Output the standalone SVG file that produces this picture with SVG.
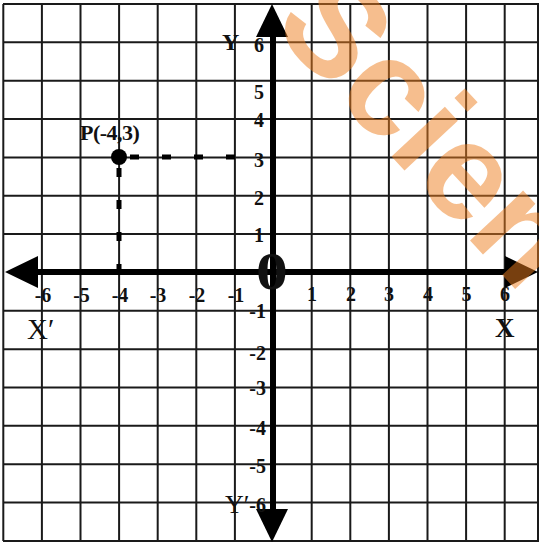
<svg xmlns="http://www.w3.org/2000/svg" width="539" height="543" viewBox="0 0 539 543">
<style>
.g{stroke:#1a1a1a;stroke-width:2;fill:none}
.ax{stroke:#000;stroke-width:6;fill:none}
.ah{fill:#000}
.t{font-family:"Liberation Serif","Times New Roman",serif;font-weight:bold;font-size:20px;fill:#111}
.m{text-anchor:middle}
.e{text-anchor:end}
.r{font-weight:normal}
.d{stroke:#000;stroke-width:5;stroke-dasharray:9 23;fill:none}
.wm{font-family:"Liberation Sans",Arial,sans-serif;font-weight:bold;font-size:138px;fill:#EE7F1F;opacity:0.5}
</style>
<defs>
<path id="arrow" d="M0,0 L-33,-16 L-33,16 Z"/>
</defs>
<rect width="539" height="543" fill="#fff"/>
<g id="grid" class="g">
<line x1="3.3" y1="4" x2="3.3" y2="541"/>
<line x1="41.9" y1="4" x2="41.9" y2="541"/>
<line x1="80.5" y1="4" x2="80.5" y2="541"/>
<line x1="119.1" y1="4" x2="119.1" y2="541"/>
<line x1="157.7" y1="4" x2="157.7" y2="541"/>
<line x1="196.3" y1="4" x2="196.3" y2="541"/>
<line x1="234.9" y1="4" x2="234.9" y2="541"/>
<line x1="311.7" y1="4" x2="311.7" y2="541"/>
<line x1="350.3" y1="4" x2="350.3" y2="541"/>
<line x1="388.9" y1="4" x2="388.9" y2="541"/>
<line x1="427.5" y1="4" x2="427.5" y2="541"/>
<line x1="466.1" y1="4" x2="466.1" y2="541"/>
<line x1="504.7" y1="4" x2="504.7" y2="541"/>
<line x1="538" y1="4" x2="538" y2="541"/>
<line x1="3" y1="4" x2="539" y2="4"/>
<line x1="3" y1="42.35" x2="539" y2="42.35"/>
<line x1="3" y1="80.7" x2="539" y2="80.7"/>
<line x1="3" y1="119.05" x2="539" y2="119.05"/>
<line x1="3" y1="157.4" x2="539" y2="157.4"/>
<line x1="3" y1="195.75" x2="539" y2="195.75"/>
<line x1="3" y1="234.1" x2="539" y2="234.1"/>
<line x1="3" y1="310.8" x2="539" y2="310.8"/>
<line x1="3" y1="349.15" x2="539" y2="349.15"/>
<line x1="3" y1="387.5" x2="539" y2="387.5"/>
<line x1="3" y1="425.85" x2="539" y2="425.85"/>
<line x1="3" y1="464.2" x2="539" y2="464.2"/>
<line x1="3" y1="502.55" x2="539" y2="502.55"/>
<line x1="3" y1="541" x2="539" y2="541"/>
</g>
<g id="axes">
<line class="ax" x1="36" y1="272" x2="512" y2="272"/>
<line class="ax" x1="273" y1="35" x2="273" y2="512"/>
<use href="#arrow" class="ah" transform="translate(538,272)"/>
<use href="#arrow" class="ah" transform="translate(5,272) rotate(180)"/>
<use href="#arrow" class="ah" transform="translate(272,4) rotate(-90)"/>
<use href="#arrow" class="ah" transform="translate(272,542) rotate(90)"/>
</g>
<g id="connectors">
<line class="d" x1="130" y1="157" x2="240" y2="157"/>
<line class="d" x1="119" y1="168" x2="119" y2="272"/>
</g>
<g id="point-P">
<circle cx="119" cy="157" r="8" fill="#000"/>
<text class="t" x="80" y="140" style="font-size:22px;letter-spacing:-0.5px">P(-4,3)</text>
</g>
<g id="labels">
<text class="t" x="222" y="50" style="font-size:24px">Y</text>
<text class="t r" x="225" y="513" style="font-size:26px">Y′</text>
<text class="t" x="495" y="337" style="font-size:27px">X</text>
<text class="t r" x="27" y="339" style="font-size:29px">X′</text>
<text class="t m" transform="translate(272,289) scale(1.2,1)" style="font-size:53px">0</text>
<g class="t m">
<text x="259" y="52">6</text>
<text x="259" y="99">5</text>
<text x="259" y="127">4</text>
<text x="259" y="167">3</text>
<text x="259" y="205">2</text>
<text x="259" y="242">1</text>
</g>
<g class="t e">
<text x="266" y="318">-1</text>
<text x="266" y="360">-2</text>
<text x="266" y="395">-3</text>
<text x="266" y="435">-4</text>
<text x="266" y="473">-5</text>
<text x="266" y="512">-6</text>
</g>
<g class="t m">
<text x="43" y="302">-6</text>
<text x="81.5" y="302">-5</text>
<text x="120" y="302">-4</text>
<text x="158" y="302">-3</text>
<text x="197" y="302">-2</text>
<text x="236" y="302">-1</text>
<text x="312" y="301">1</text>
<text x="351" y="301">2</text>
<text x="389" y="301">3</text>
<text x="428" y="301">4</text>
<text x="466.5" y="301">5</text>
<text x="505" y="301">6</text>
</g>
</g>
<text class="wm" transform="translate(270,26) rotate(47)">Scien</text>
</svg>
